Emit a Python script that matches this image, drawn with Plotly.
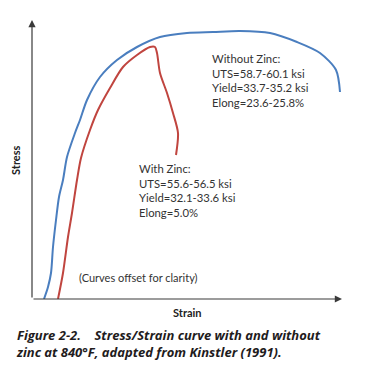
import plotly.graph_objects as go

# Strain / stress in arbitrary (offset) units
blue_strain = [1.2, 1.6, 1.9, 2.1, 2.4, 2.7, 3.1, 3.5, 4.3, 4.8, 5.5, 6.8, 8.5, 10.5, 12.8, 15.5, 18.1, 20.8, 23.8, 26.5, 28.8, 30.4, 30.8]
blue_stress = [0.0, 1.2, 2.6, 5.2, 7.9, 10.2, 11.9, 14.2, 16.6, 17.9, 19.9, 22.2, 23.9, 25.2, 26.2, 26.6, 26.7, 26.8, 26.6, 25.7, 24.6, 22.9, 20.7]

red_strain = [2.6, 3.1, 3.6, 4.0, 4.5, 4.9, 5.8, 6.6, 7.8, 9.1, 10.5, 11.8, 12.3, 12.5, 12.8, 13.5, 14.1, 14.6, 14.4]
red_stress = [0.0, 2.6, 6.2, 8.6, 11.9, 14.1, 16.9, 18.9, 21.1, 23.2, 24.4, 25.2, 25.2, 24.6, 22.6, 20.6, 18.6, 16.6, 14.4]

without_zinc = ["Without Zinc:", "UTS=58.7-60.1 ksi", "Yield=33.7-35.2 ksi", "Elong=23.6-25.8%"]
with_zinc = ["With Zinc:", "UTS=55.6-56.5 ksi", "Yield=32.1-33.6 ksi", "Elong=5.0%"]
caption = ["Figure 2-2.    Stress/Strain curve with and without",
           "zinc at 840°F, adapted from Kinstler (1991)."]

BLUE = "#4a7ebf"
RED = "#c0453f"
TXT = "#333333"
FONT = "Lato, Open Sans, sans-serif"
CAP_FONT = "Open Sans, Lato, sans-serif"

fig = go.Figure()
fig.add_trace(go.Scatter(x=blue_strain, y=blue_stress, mode="lines",
                         line=dict(color=BLUE, width=2, shape="spline", smoothing=0.8),
                         hoverinfo="skip", showlegend=False))
fig.add_trace(go.Scatter(x=red_strain, y=red_stress, mode="lines",
                         line=dict(color=RED, width=2, shape="spline", smoothing=0.8),
                         hoverinfo="skip", showlegend=False))

anns = []
# axes arrows
anns.append(dict(x=31, y=0, ax=0, ay=0, xref="x", yref="y", axref="x", ayref="y",
                 showarrow=True, arrowhead=2, arrowsize=1.2, arrowwidth=1.2, arrowcolor="#3a3a3a", text=""))
anns.append(dict(x=0, y=27.9, ax=0, ay=0, xref="x", yref="y", axref="x", ayref="y",
                 showarrow=True, arrowhead=2, arrowsize=1.2, arrowwidth=1.2, arrowcolor="#3a3a3a", text=""))

anns.append(dict(x=17.8, y=21.9, xref="x", yref="y", text="<br>".join(without_zinc),
                 showarrow=False, xanchor="left", yanchor="middle", align="left",
                 font=dict(family=FONT, size=11.3, color=TXT)))
anns.append(dict(x=10.5, y=10.85, xref="x", yref="y", text="<br>".join(with_zinc),
                 showarrow=False, xanchor="left", yanchor="middle", align="left",
                 font=dict(family=FONT, size=11.3, color=TXT)))
anns.append(dict(x=4.5, y=2.2, xref="x", yref="y", text="(Curves offset for clarity)",
                 showarrow=False, xanchor="left", yanchor="middle",
                 font=dict(family=FONT, size=11, color=TXT)))
anns.append(dict(x=-0.055, y=0.498, xref="paper", yref="paper", text="<b>Stress</b>", textangle=-90,
                 showarrow=False, xanchor="center", yanchor="middle",
                 font=dict(family=FONT, size=11, color="#222222")))
anns.append(dict(x=0.5, y=-0.05, xref="paper", yref="paper", text="<b>Strain</b>",
                 showarrow=False, xanchor="center", yanchor="middle",
                 font=dict(family=FONT, size=11, color="#222222")))
anns.append(dict(x=-0.058, y=-0.161, xref="paper", yref="paper",
                 text="<br>".join("<b><i>" + line + "</i></b>" for line in caption),
                 showarrow=False, xanchor="left", yanchor="middle", align="left",
                 font=dict(family=CAP_FONT, size=13, color="#1f1c1d")))

fig.update_layout(
    width=372, height=379,
    margin=dict(l=32, r=30, t=20, b=80),
    paper_bgcolor="white", plot_bgcolor="white",
    xaxis=dict(range=[0, 31], visible=False, fixedrange=True),
    yaxis=dict(range=[0, 27.9], visible=False, fixedrange=True),
    annotations=anns,
    showlegend=False,
)
fig.write_html("out.html", config={"displayModeBar": False},
               post_script="document.body.style.margin='0';")
